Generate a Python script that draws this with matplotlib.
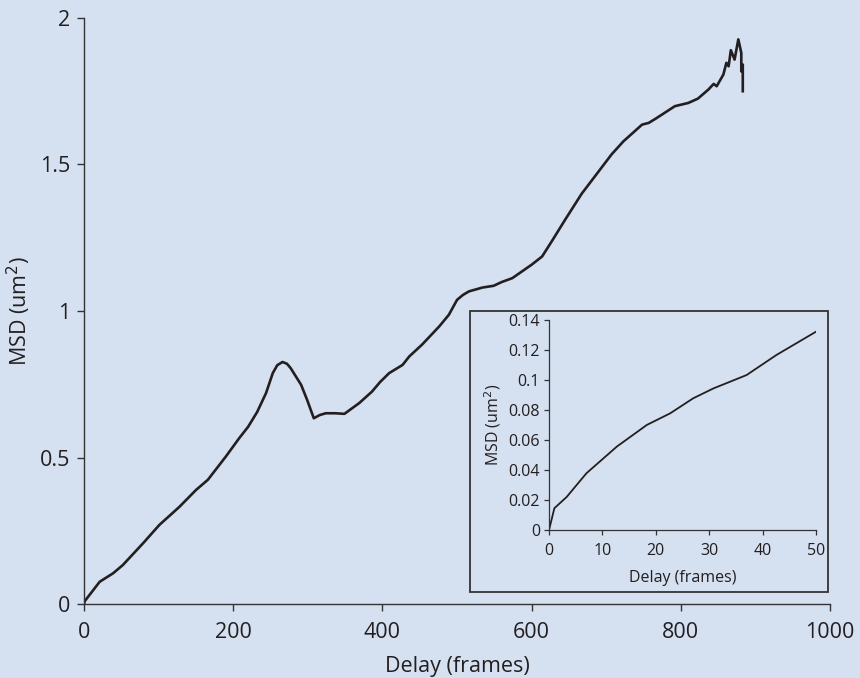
import matplotlib
matplotlib.use("Agg")
import matplotlib.pyplot as plt
from matplotlib.patches import Rectangle

# main MSD curve
delay = [0, 1, 21, 39, 52, 79, 101, 128, 150, 166, 190, 208, 220, 232, 244,
         253, 259, 266, 272, 277, 291, 299, 308, 316, 324, 337, 349, 369, 386, 397, 409, 427,
         436, 453, 476, 489, 500, 508, 516, 534, 549, 560, 574, 600, 614, 627, 645,
         667, 690, 707, 723, 748, 757, 766, 792, 810, 823, 837, 844, 848, 857,
         861, 864, 867, 872, 877, 881, 881, 883, 883]
msd = [0.0, 0.01, 0.076, 0.105, 0.133, 0.207, 0.27, 0.332, 0.389, 0.424, 0.503,
       0.566, 0.605, 0.655, 0.72, 0.788, 0.815, 0.826, 0.82, 0.805, 0.748, 0.697, 0.634,
       0.645, 0.651, 0.651, 0.649, 0.686, 0.725, 0.758, 0.788, 0.816, 0.845, 0.885,
       0.947, 0.987, 1.038, 1.055, 1.067, 1.080, 1.086, 1.099, 1.112, 1.158, 1.186,
       1.238, 1.312, 1.40, 1.477, 1.534, 1.579, 1.636, 1.642, 1.656, 1.699,
       1.710, 1.725, 1.756, 1.775, 1.767, 1.807, 1.847, 1.835, 1.890, 1.858,
       1.927, 1.881, 1.818, 1.841, 1.75]

# inset: first 50 frames
delay_in = [0, 1, 3.3, 7, 12.7, 18.3, 22.7, 27, 30.8, 37, 42.6, 50]
msd_in = [0, 0.0145, 0.022, 0.0378, 0.0556, 0.07, 0.0778, 0.0878, 0.0944,
          0.1033, 0.1167, 0.1322]

bg = '#d5e0f1'
ink = '#231f20'
plt.rcParams['font.family'] = ['Open Sans', 'DejaVu Sans']

fig = plt.figure(figsize=(8.6, 6.78), dpi=100, facecolor=bg)
ax = fig.add_axes([0.0977, 0.1091, 0.8675, 0.8644], facecolor=bg)
ax.plot(delay, msd, color=ink, lw=1.9)
ax.set_xlim(0, 1000)
ax.set_ylim(0, 2)
ax.set_xticks([0, 200, 400, 600, 800, 1000])
ax.set_yticks([0, 0.5, 1, 1.5, 2])
ax.set_yticklabels(['0', '0.5', '1', '1.5', '2'])
for s in ['top', 'right']:
    ax.spines[s].set_visible(False)
for s in ['left', 'bottom']:
    ax.spines[s].set_color('#333333')
    ax.spines[s].set_linewidth(1.0)
ax.tick_params(direction='out', length=5, width=1.0, color='#333333',
               labelsize=15.5, labelcolor=ink, pad=5)
ax.tick_params(axis='x', pad=8)
ax.set_xlabel('Delay (frames)', fontsize=15.5, color=ink, labelpad=9)
ax.set_ylabel('MSD (um$^2$)', fontsize=15.5, color=ink, labelpad=5)

# box round the inset
fig.patches.append(Rectangle((0.5465, 0.1268), 0.4163, 0.4145, transform=fig.transFigure,
                             fill=False, edgecolor='#333333', lw=1.3))

ins = fig.add_axes([0.6384, 0.2183, 0.3104, 0.3097], facecolor=bg)
ins.plot(delay_in, msd_in, color=ink, lw=1.3)
ins.set_xlim(0, 50)
ins.set_ylim(0, 0.14)
ins.set_xticks([0, 10, 20, 30, 40, 50])
ins.set_yticks([0, 0.02, 0.04, 0.06, 0.08, 0.1, 0.12, 0.14])
ins.set_yticklabels(['0', '0.02', '0.04', '0.06', '0.08', '0.1', '0.12', '0.14'])
for s in ['top', 'right']:
    ins.spines[s].set_visible(False)
for s in ['left', 'bottom']:
    ins.spines[s].set_color('#333333')
    ins.spines[s].set_linewidth(0.9)
ins.tick_params(direction='out', length=3.5, width=0.9, color='#333333',
                labelsize=11.5, labelcolor=ink, pad=3)
ins.tick_params(axis='x', pad=6)
ins.set_xlabel('Delay (frames)', fontsize=11.5, color=ink, labelpad=8)
ins.set_ylabel('MSD (um$^2$)', fontsize=11.5, color=ink, labelpad=4)

fig.savefig('out.png', dpi=100, facecolor=bg)
